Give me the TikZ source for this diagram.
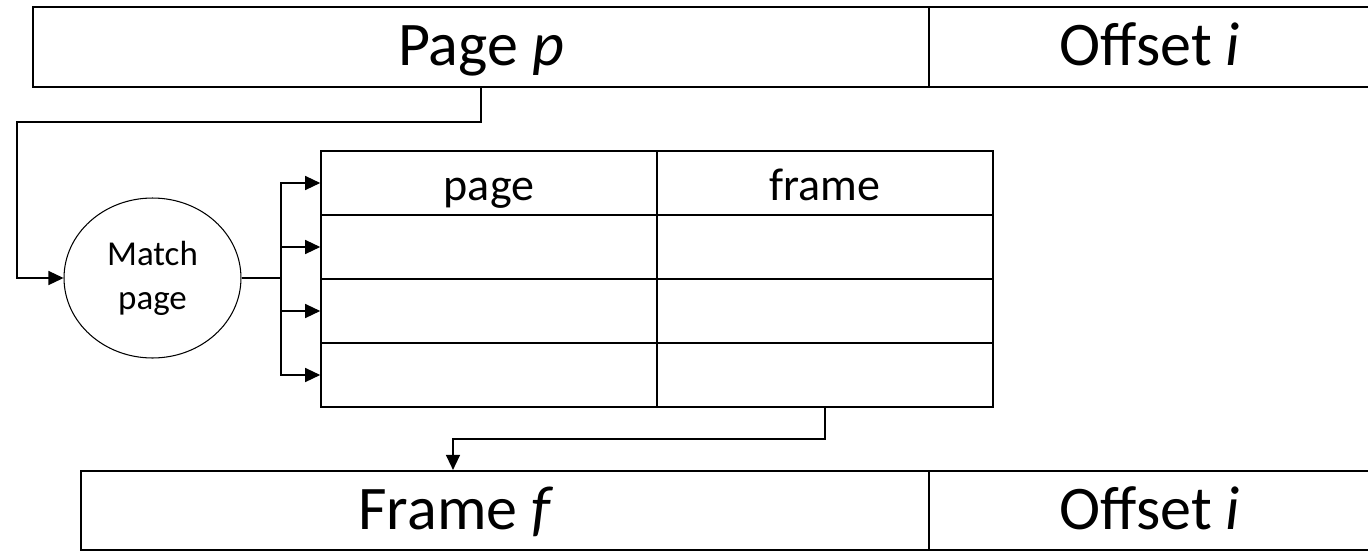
\documentclass[tikz,border=0pt]{standalone}
\usepackage{fontspec}
\setmainfont{Carlito}
\usetikzlibrary{arrows.meta,shapes.geometric}
\tikzset{
  barcell/.style={draw, line width=1.25pt, rectangle, minimum height=1.6cm, inner sep=0pt, text height=0.74cm, text depth=0pt, font=\fontsize{35.3}{42}\selectfont},
  tabcell/.style={draw, line width=0.95pt, rectangle, minimum width=6.72cm, minimum height=1.28cm, inner sep=0pt, text height=0.68cm, text depth=0pt, font=\fontsize{26.2}{31}\selectfont},
  conn/.style={line width=0.75pt, -{Triangle[length=0.3cm,width=0.28cm]}}
}
\begin{document}
\begin{tikzpicture}[x=0.02cm, y=-0.02cm]
\useasboundingbox (0,0) rectangle (1368,551);
\clip (0,0) rectangle (1368,551);
\node[barcell, minimum width=17.92cm] (pp) at (481,47) {Page \textit{p}};
\node[barcell, minimum width=8.84cm] (po) at (1150,47) {Offset \textit{i}};
\node[draw, ellipse, line width=0.6pt, minimum width=3.54cm, minimum height=3.2cm, inner sep=0pt, align=center, font=\fontsize{19.9}{25}\selectfont] (match) at (152.5,278) {Match\\page};
\node[tabcell] (pg) at (489,183) {page};
\node[tabcell] (fr) at (825,183) {frame};
\node[tabcell] (a2) at (489,247) {};
\node[tabcell] (b2) at (825,247) {};
\node[tabcell] (a3) at (489,311) {};
\node[tabcell] (b3) at (825,311) {};
\node[tabcell] (a4) at (489,375) {};
\node[tabcell] (b4) at (825,375) {};
\node[barcell, minimum width=16.96cm, minimum height=1.58cm] (ff) at (505,510.5) {};
\node[font=\fontsize{35.3}{42}\selectfont, inner sep=0pt, text height=0.76cm, text depth=0pt] (fftext) at (456,510.5) {Frame \textit{f}};
\node[barcell, minimum width=8.84cm, minimum height=1.58cm] (fo) at (1150,510.5) {Offset \textit{i}};
\coordinate (turn) at (17,122);
\coordinate (bus) at (281,278);
\coordinate (bend) at (453,439);
\draw[conn] (pp.south) |- (turn) |- (match.west);
\draw[line width=0.75pt] (match.east) -- (bus);
\draw[conn] (bus) |- (pg.west);
\draw[conn] (bus) |- (a2.west);
\draw[conn] (bus) |- (a3.west);
\draw[conn] (bus) |- (a4.west);
\draw[conn] (b4.south) |- (bend) -- (bend |- ff.north);
\end{tikzpicture}
\end{document}
